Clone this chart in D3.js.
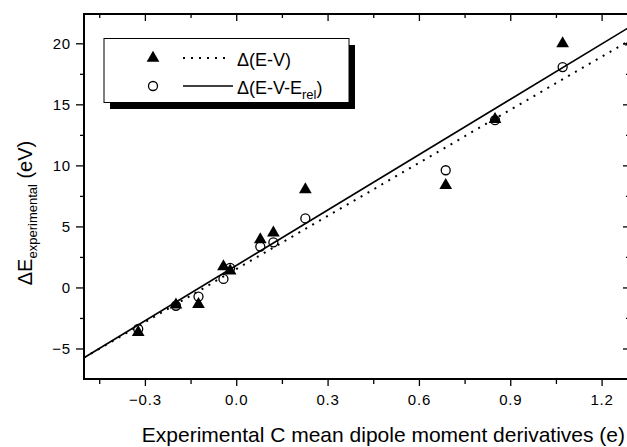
<!DOCTYPE html>
<html>
<head>
<meta charset="utf-8">
<script src="https://cdn.jsdelivr.net/npm/d3@7"></script>
<style>
  body { margin: 0; background: #fff; }
  text { font-family: "Liberation Sans", Arial, sans-serif; fill: #000; }
</style>
</head>
<body>
<div id="chart"></div>
<script>
// data
var derivX   = [-0.322, -0.198, -0.124, -0.042, -0.020, 0.079, 0.122, 0.227, 0.688, 0.850, 1.072, 1.297];
var dEV      = [-3.6, -1.35, -1.3, 1.8, 1.45, 4.0, 4.55, 8.1, 8.45, 13.85, 20.05, 20.2];
var circX    = [-0.322, -0.198, -0.124, -0.042, -0.020, 0.079, 0.122, 0.227, 0.688, 0.850, 1.072];
var dEVrel   = [-3.4, -1.5, -0.75, 0.7, 1.6, 3.35, 3.7, 5.65, 9.6, 13.7, 18.05];
// fitted lines: [intercept, slope]
var fitEV    = [1.5, 14.5];
var fitEVrel = [1.8, 15.12];
var xMajor = [-0.3, 0.0, 0.3, 0.6, 0.9, 1.2];
var xMinor = [-0.45, -0.15, 0.15, 0.45, 0.75, 1.05];
var yMajor = [-5, 0, 5, 10, 15, 20];
var yMinor = [-2.5, 2.5, 7.5, 12.5, 17.5];

var W = 627, H = 447;
var margin = {left: 84, top: 14, right: 629, bottom: 379};

var svg = d3.select("#chart").append("svg")
    .attr("width", W)
    .attr("height", H);

var x = d3.scaleLinear().domain([-0.5, 1.29]).range([margin.left, margin.right]);
var y = d3.scaleLinear().domain([-7.5, 22.4]).range([margin.bottom, margin.top]);

svg.append("clipPath").attr("id", "plotclip")
  .append("rect")
    .attr("x", margin.left).attr("y", margin.top)
    .attr("width", margin.right - margin.left)
    .attr("height", margin.bottom - margin.top);

// axes: outward ticks on bottom/left, inward on top/right
var fmt = d3.format(".1f");
svg.append("g").attr("transform", "translate(0," + margin.bottom + ")")
    .call(d3.axisBottom(x).tickValues(xMajor).tickSize(7).tickPadding(8).tickFormat(fmt));
svg.append("g").attr("transform", "translate(0," + margin.bottom + ")")
    .call(d3.axisBottom(x).tickValues(xMinor).tickSize(5).tickFormat(""));
svg.append("g").attr("transform", "translate(0," + margin.top + ")")
    .call(d3.axisBottom(x).tickValues(xMajor).tickSize(7).tickFormat(""));
svg.append("g").attr("transform", "translate(0," + margin.top + ")")
    .call(d3.axisBottom(x).tickValues(xMinor).tickSize(4).tickFormat(""));
svg.append("g").attr("transform", "translate(" + margin.left + ",0)")
    .call(d3.axisLeft(y).tickValues(yMajor).tickSize(8).tickPadding(5).tickFormat(d3.format("d")));
svg.append("g").attr("transform", "translate(" + margin.left + ",0)")
    .call(d3.axisLeft(y).tickValues(yMinor).tickSize(4).tickFormat(""));
svg.append("g").attr("transform", "translate(" + margin.right + ",0)")
    .call(d3.axisLeft(y).tickValues(yMajor).tickSize(6).tickFormat(""));
svg.append("g").attr("transform", "translate(" + margin.right + ",0)")
    .call(d3.axisLeft(y).tickValues(yMinor).tickSize(3).tickFormat(""));

svg.selectAll(".domain").remove();
svg.selectAll(".tick line").attr("stroke", "#000").attr("stroke-width", 1.3);
svg.selectAll(".tick text").style("font-size", "15px").attr("fill", "#000")
    .style("letter-spacing", "0.8px")
    .style("font-family", "'Liberation Sans', Arial, sans-serif");

svg.append("rect")
    .attr("x", margin.left).attr("y", margin.top)
    .attr("width", margin.right - margin.left)
    .attr("height", margin.bottom - margin.top)
    .attr("fill", "none").attr("stroke", "#000").attr("stroke-width", 2);

// fit lines
var xs = x.domain();
var plot = svg.append("g").attr("clip-path", "url(#plotclip)");
function fitLine(f) {
  return xs.map(function(v) { return [x(v), y(f[0] + f[1] * v)]; });
}
plot.append("path")
    .attr("d", d3.line()(fitLine(fitEV)))
    .attr("fill", "none").attr("stroke", "#000").attr("stroke-width", 2)
    .attr("stroke-dasharray", "2,6");
plot.append("path")
    .attr("d", d3.line()(fitLine(fitEVrel)))
    .attr("fill", "none").attr("stroke", "#000").attr("stroke-width", 1.6);

// markers
var tri = d3.symbol().type(d3.symbolTriangle).size(70);
svg.selectAll(".circ")
  .data(circX)
  .enter().append("circle")
    .attr("class", "circ")
    .attr("cx", function(d) { return x(d); })
    .attr("cy", function(d, i) { return y(dEVrel[i]); })
    .attr("r", 4.5)
    .attr("fill", "none").attr("stroke", "#000").attr("stroke-width", 1.3);
svg.selectAll(".tri")
  .data(derivX)
  .enter().append("path")
    .attr("class", "tri")
    .attr("d", tri)
    .attr("transform", function(d, i) { return "translate(" + x(d) + "," + (y(dEV[i]) + 1) + ")"; })
    .attr("fill", "#000");

// legend
var lg = svg.append("g");
lg.append("rect").attr("x", 110).attr("y", 45).attr("width", 245).attr("height", 64).attr("fill", "#000");
lg.append("rect").attr("x", 104).attr("y", 38.5).attr("width", 245).attr("height", 64)
    .attr("fill", "#fff").attr("stroke", "#000").attr("stroke-width", 1);
lg.append("path").attr("d", tri).attr("transform", "translate(153,58)").attr("fill", "#000");
lg.append("circle").attr("cx", 153).attr("cy", 86).attr("r", 4.5)
    .attr("fill", "none").attr("stroke", "#000").attr("stroke-width", 1.3);
lg.append("line").attr("x1", 183).attr("x2", 231).attr("y1", 58).attr("y2", 58)
    .attr("stroke", "#000").attr("stroke-width", 2).attr("stroke-dasharray", "2,6");
lg.append("line").attr("x1", 183).attr("x2", 233).attr("y1", 86).attr("y2", 86)
    .attr("stroke", "#000").attr("stroke-width", 1.6);
lg.append("text").attr("x", 237).attr("y", 66).style("font-size", "18px").text("\u0394(E-V)");
var t2 = lg.append("text").attr("x", 237).attr("y", 94).style("font-size", "18px");
t2.append("tspan").text("\u0394(E-V-E");
t2.append("tspan").attr("dy", 5).style("font-size", "13px").text("rel");
t2.append("tspan").attr("dy", -5).text(")");

// axis titles
svg.append("text")
    .attr("x", 625).attr("y", 442)
    .attr("text-anchor", "end")
    .style("font-size", "21px")
    .text("Experimental C mean dipole moment derivatives (e)");
var yt = svg.append("text")
    .attr("transform", "translate(32,213) rotate(-90)")
    .attr("text-anchor", "middle")
    .style("font-size", "20px");
yt.append("tspan").text("\u0394E");
yt.append("tspan").attr("dy", 5).style("font-size", "13px").text("experimental");
yt.append("tspan").attr("dy", -5).text(" (eV)");
</script>
</body>
</html>
